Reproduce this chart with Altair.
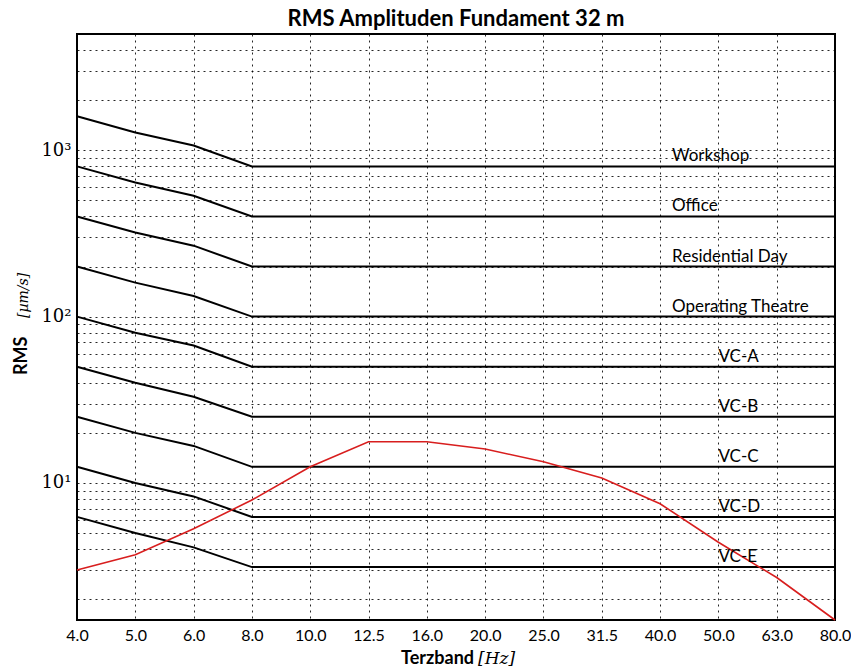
import altair as alt
import pandas as pd

# Third-octave band centre frequencies (Hz), shown as equally spaced categories
bands = ["4.0", "5.0", "6.0", "8.0", "10.0", "12.5", "16.0", "20.0",
         "25.0", "31.5", "40.0", "50.0", "63.0", "80.0"]

# Vibration criteria curves, RMS velocity in µm/s per band
workshop = [1600, 1280, 1067, 800, 800, 800, 800, 800, 800, 800, 800, 800, 800, 800]
office = [800, 640, 533, 400, 400, 400, 400, 400, 400, 400, 400, 400, 400, 400]
residential_day = [400, 320, 267, 200, 200, 200, 200, 200, 200, 200, 200, 200, 200, 200]
operating_theatre = [200, 160, 133, 100, 100, 100, 100, 100, 100, 100, 100, 100, 100, 100]
vc_a = [100, 80, 67, 50, 50, 50, 50, 50, 50, 50, 50, 50, 50, 50]
vc_b = [50, 40, 33, 25, 25, 25, 25, 25, 25, 25, 25, 25, 25, 25]
vc_c = [25, 20, 16.7, 12.5, 12.5, 12.5, 12.5, 12.5, 12.5, 12.5, 12.5, 12.5, 12.5, 12.5]
vc_d = [12.5, 10, 8.3, 6.25, 6.25, 6.25, 6.25, 6.25, 6.25, 6.25, 6.25, 6.25, 6.25, 6.25]
vc_e = [6.25, 5, 4.1, 3.12, 3.12, 3.12, 3.12, 3.12, 3.12, 3.12, 3.12, 3.12, 3.12, 3.12]

criteria_names = ["Workshop", "Office", "Residential Day", "Operating Theatre",
                  "VC-A", "VC-B", "VC-C", "VC-D", "VC-E"]
criteria_values = [workshop, office, residential_day, operating_theatre,
                   vc_a, vc_b, vc_c, vc_d, vc_e]

# Measured RMS amplitudes on the foundation at 32 m
measured = [3.0, 3.7, 5.3, 7.9, 12.5, 17.7, 17.7, 16.0, 13.4, 10.7, 7.5, 4.4, 2.7, 1.5]

# Log-axis ticks: every one gets a grid line, only the decades get a label
y_ticks = [2, 3, 4, 5, 6, 7, 8, 9,
           10, 20, 30, 40, 50, 60, 70, 80, 90,
           100, 200, 300, 400, 500, 600, 700, 800, 900,
           1000, 2000, 3000, 4000, 5000]

crit_rows = []
for name, vals in zip(criteria_names, criteria_values):
    for b, v in zip(bands, vals):
        crit_rows.append({"criterion": name, "band": b, "value": v})
crit_df = pd.DataFrame(crit_rows)

meas_df = pd.DataFrame({"band": bands, "value": measured})

label_df = pd.DataFrame({
    "criterion": criteria_names,
    "value": [vals[-1] for vals in criteria_values],
    "band": ["40.0"] * 4 + ["50.0"] * 5,
    "group": ["room"] * 4 + ["vc"] * 5,
})

W, H = 758, 586

x_enc = alt.X(
    "band:O", sort=bands,
    scale=alt.Scale(type="point", padding=0),
    axis=alt.Axis(title=None, labelAngle=0, labelFont="Lato", labelFontSize=16,
                  labelColor="black", labelPadding=7, ticks=False, domain=False,
                  grid=True, gridColor="black", gridDash=[2, 4], gridOpacity=0.85,
                  gridWidth=1),
)
y_enc = alt.Y(
    "value:Q",
    scale=alt.Scale(type="log", domain=[1.5, 5000], nice=False),
    axis=alt.Axis(title=None, values=y_ticks,
                  labelExpr="datum.value == 10 ? '10¹' : datum.value == 100 ? '10²' : datum.value == 1000 ? '10³' : ''",
                  labelFont="DejaVu Serif", labelFontSize=18, labelColor="black",
                  labelPadding=6, ticks=False, domain=False,
                  grid=True, gridColor="black", gridDash=[2, 4], gridOpacity=0.85,
                  gridWidth=1),
)

crit_lines = alt.Chart(crit_df).mark_line(color="black", strokeWidth=2).encode(
    x=x_enc, y=y_enc, detail="criterion:N"
)

meas_line = alt.Chart(meas_df).mark_line(color="#d81e1e", strokeWidth=1.6).encode(
    x=alt.X("band:O", sort=bands), y="value:Q"
)

room_labels = alt.Chart(label_df).transform_filter("datum.group == 'room'").mark_text(
    align="left", baseline="alphabetic", dx=12, dy=-5, font="Lato", fontSize=17,
    color="black"
).encode(x=alt.X("band:O", sort=bands), y="value:Q", text="criterion:N")

vc_labels = alt.Chart(label_df).transform_filter("datum.group == 'vc'").mark_text(
    align="left", baseline="alphabetic", dx=0, dy=-5, font="Lato", fontSize=17,
    color="black"
).encode(x=alt.X("band:O", sort=bands), y="value:Q", text="criterion:N")

# Axis titles built from text marks so the bold name and the unit can differ in style
xt1 = alt.Chart(pd.DataFrame({"t": ["Terzband"]})).mark_text(
    align="right", baseline="alphabetic", font="Lato", fontSize=18, fontWeight="bold",
    color="black"
).encode(x=alt.value(397), y=alt.value(H + 44), text="t:N")
xt2 = alt.Chart(pd.DataFrame({"t": ["[Hz]"]})).mark_text(
    align="left", baseline="alphabetic", font="DejaVu Serif", fontSize=17,
    fontStyle="italic", color="black"
).encode(x=alt.value(401), y=alt.value(H + 44), text="t:N")
yt1 = alt.Chart(pd.DataFrame({"t": ["RMS"]})).mark_text(
    align="left", baseline="middle", angle=270, font="Lato", fontSize=18,
    fontWeight="bold", color="black"
).encode(x=alt.value(-55), y=alt.value(341), text="t:N")
yt2 = alt.Chart(pd.DataFrame({"t": ["[µm/s]"]})).mark_text(
    align="left", baseline="middle", angle=270, font="DejaVu Serif", fontSize=14,
    fontStyle="italic", color="black"
).encode(x=alt.value(-53), y=alt.value(284), text="t:N")

chart = alt.layer(
    crit_lines, meas_line, room_labels, vc_labels, xt1, xt2, yt1, yt2
).properties(
    width=W, height=H,
    title=alt.TitleParams("RMS Amplituden Fundament 32 m", font="Lato", fontSize=22,
                          fontWeight="bold", color="black", anchor="middle", offset=3),
    autosize="none",
    padding={"left": 77, "top": 34, "right": 16, "bottom": 50},
    background="white",
).configure_view(
    stroke="black", strokeWidth=2
)

chart.save("out.html", embed_options={"renderer": "svg", "actions": False})
